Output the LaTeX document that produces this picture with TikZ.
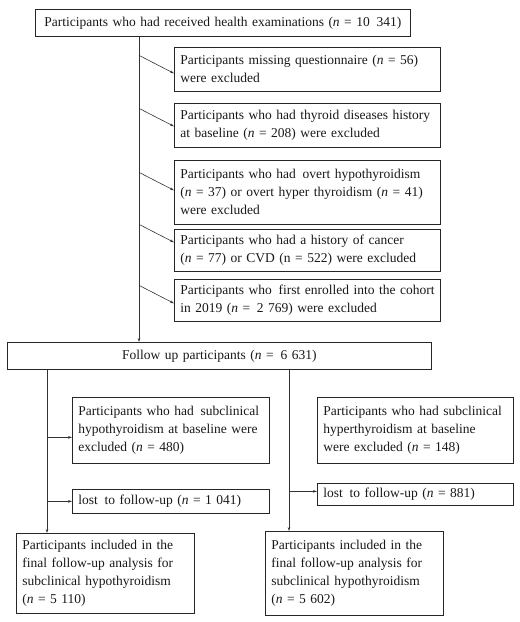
\documentclass[tikz,border=0pt]{standalone}
\usepackage{fontspec}
\setmainfont{Liberation Serif}
\usetikzlibrary{arrows.meta,calc}
\newcommand{\nn}{\textit{n}}
\begin{document}
\begin{tikzpicture}[x=1pt,y=-1pt,
  box/.style={draw=black!85, line width=0.7pt, inner xsep=6pt, inner ysep=0pt,
    anchor=north west, font=\fontsize{13.5}{18}\selectfont, align=left, text=black!90},
  cbox/.style={box, align=center},
  conn/.style={draw=black!80, line width=0.6pt, -{Stealth[length=4pt,width=2.6pt]}}]
\useasboundingbox (0,0) rectangle (520,622);
\node[cbox, text width=363pt, minimum height=27pt] (top) at (35,9)
  {Participants who had received health examinations (\nn{} = 10\enspace341)};
\node[box, text width=254pt, minimum height=44pt] (b1) at (174,47)
  {Participants missing questionnaire (\nn{} = 56)\\were excluded};
\node[box, text width=254pt, minimum height=44pt] (b2) at (174,103)
  {\mbox{Participants who had thyroid diseases history}\\at baseline (\nn{} = 208) were excluded};
\node[box, text width=254pt, minimum height=64pt] (b3) at (174,160)
  {Participants who had\enspace overt hypothyroidism\\\mbox{(\nn{} = 37) or overt hyper thyroidism (\nn{} = 41)}\\were excluded};
\node[box, text width=254pt, minimum height=42pt] (b4) at (174,229)
  {Participants who had a history of cancer\\\mbox{(\nn{} = 77) or CVD (n = 522) were excluded}};
\node[box, text width=254pt, minimum height=42pt] (b5) at (174,279)
  {\mbox{Participants who\enspace first enrolled into the cohort}\\in 2019 (\nn{} =\enspace 2 769) were excluded};
\node[cbox, text width=412pt, minimum height=27pt] (fu) at (7,342)
  {Follow up participants (\nn{} =\enspace 6 631)};
\node[box, text width=185pt, minimum height=66pt] (b6) at (72,397)
  {\mbox{Participants who had\enspace subclinical}\\\mbox{hypothyroidism at baseline were}\\excluded (\nn{} = 480)};
\node[box, text width=184pt, minimum height=66pt] (b7) at (317,397)
  {\mbox{Participants who had subclinical}\\hyperthyroidism at baseline\\were excluded (\nn{} = 148)};
\node[box, text width=185pt, minimum height=24pt] (b8) at (72,489)
  {lost\enspace to follow-up (\nn{} = 1 041)};
\node[box, text width=184pt, minimum height=22pt] (b9) at (317,483)
  {lost\enspace to follow-up (\nn{} = 881)};
\node[box, text width=166pt, minimum height=80pt] (f1) at (16,533)
  {Participants included in the\\final follow-up analysis for\\subclinical hypothyroidism\\(\nn{} = 5 110)};
\node[box, text width=166pt, minimum height=84pt] (f2) at (265,531)
  {Participants included in the\\final follow-up analysis for\\subclinical hypothyroidism\\(\nn{} = 5 602)};
% vertical trunks
\coordinate (vx) at (139,0);
\coordinate (lx) at (47,0);
\coordinate (rx) at (289,0);
\draw[conn] (top.south -| vx) -- (fu.north -| vx);
\draw[conn] (fu.south -| lx) -- (f1.north -| lx);
\draw[conn] (fu.south -| rx) -- (f2.north -| rx);
% diagonal exclusions
\coordinate (e1) at ($(b1.west)+(0,4)$);
\coordinate (e2) at ($(b2.west)+(0,1)$);
\coordinate (e3) at ($(b3.west)+(0,-2)$);
\coordinate (e4) at ($(b4.west)+(0,-8)$);
\coordinate (e5) at ($(b5.west)+(0,3)$);
\foreach \e in {e1,e2,e3,e4,e5}{
  \draw[conn] ($(\e)+(-35,-18)$) -- (\e);
}
% horizontal exclusions
\coordinate (e6) at ($(b6.west)+(0,7)$);
\draw[conn] (e6 -| lx) -- (e6);
\draw[conn] (b8.west -| lx) -- (b8.west);
\coordinate (e9) at ($(b9.west)+(0,-3)$);
\draw[conn] (e9 -| rx) -- (e9);
\end{tikzpicture}
\end{document}
